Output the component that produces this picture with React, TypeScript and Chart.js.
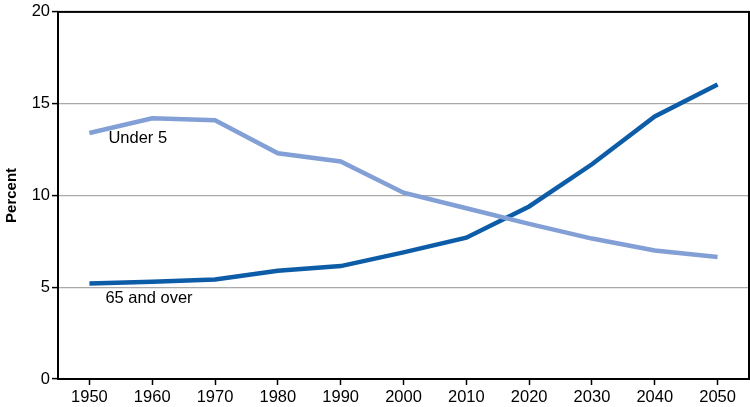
import React, { useEffect, useRef } from "react";
import { Chart, registerables } from "chart.js";

Chart.register(...registerables);

const years = ["1950", "1960", "1970", "1980", "1990", "2000", "2010", "2020", "2030", "2040", "2050"];
const under5 = [13.4, 14.2, 14.1, 12.3, 11.85, 10.15, 9.3, 8.45, 7.65, 7.0, 6.65];
const over65 = [5.2, 5.3, 5.42, 5.9, 6.15, 6.9, 7.7, 9.4, 11.7, 14.3, 16.05];
const yTicks = [0, 5, 10, 15, 20];

const FONT = "'Liberation Sans', Arial, Helvetica, sans-serif";

export default function App() {
  const ref = useRef<HTMLCanvasElement | null>(null);

  useEffect(() => {
    document.body.style.margin = "0";
    const canvas = ref.current;
    if (!canvas) return;

    const labelPlugin = {
      id: "labels",
      afterDatasetsDraw(chart: any) {
        const { ctx, scales } = chart;
        const x = scales.x;
        const y = scales.y;
        ctx.save();
        ctx.fillStyle = "#000";
        ctx.font = `16.5px ${FONT}`;
        ctx.textBaseline = "middle";
        ctx.textAlign = "left";
        ctx.fillText("Under 5", x.getPixelForValue(0) + 19, y.getPixelForValue(13.1));
        ctx.fillText("65 and over", x.getPixelForValue(0) + 16, y.getPixelForValue(4.4));
        ctx.restore();
      },
      afterDraw(chart: any) {
        const { ctx, chartArea } = chart;
        ctx.save();
        ctx.strokeStyle = "#000";
        ctx.lineWidth = 2;
        ctx.strokeRect(chartArea.left, chartArea.top, chartArea.right - chartArea.left, chartArea.bottom - chartArea.top);
        ctx.restore();
      },
    };

    const chart = new Chart(canvas, {
      type: "line",
      data: {
        labels: years,
        datasets: [
          {
            label: "Under 5",
            data: under5,
            borderColor: "#829fd6",
            borderWidth: 4.5,
            pointRadius: 0,
            tension: 0,
            fill: false,
          },
          {
            label: "65 and over",
            data: over65,
            borderColor: "#0d5ca8",
            borderWidth: 4.5,
            pointRadius: 0,
            tension: 0,
            fill: false,
          },
        ],
      },
      options: {
        animation: false,
        responsive: false,
        maintainAspectRatio: false,
        devicePixelRatio: 1,
        layout: { padding: { top: 9, right: 1, left: 0, bottom: 0 } },
        plugins: {
          legend: { display: false },
          tooltip: { enabled: false },
        },
        scales: {
          x: {
            type: "category",
            offset: true,
            grid: {
              offset: false,
              drawOnChartArea: false,
              drawTicks: true,
              tickLength: 6,
              tickColor: "#000",
              tickWidth: 1.5,
            },
            border: { display: false },
            ticks: {
              color: "#000",
              font: { family: FONT, size: 16.5 },
              padding: 3,
              maxRotation: 0,
              autoSkip: false,
            },
            afterFit(scale: any) {
              scale.height = 28;
            },
          },
          y: {
            min: 0,
            max: 20,
            afterBuildTicks(scale: any) {
              scale.ticks = yTicks.map((v) => ({ value: v }));
            },
            grid: {
              color: (c: any) => (c.tick && (c.tick.value === 0 || c.tick.value === 20) ? "rgba(0,0,0,0)" : "#aaaaaa"),
              lineWidth: 1.2,
              drawTicks: true,
              tickLength: 6,
              tickColor: "#000",
              tickWidth: 1.5,
            },
            border: { display: false },
            ticks: {
              color: "#000",
              font: { family: FONT, size: 16.5 },
              padding: 2,
            },
            title: {
              display: true,
              text: "Percent",
              color: "#000",
              font: { family: FONT, size: 15, weight: "bold" },
              padding: { top: 3, bottom: 0 },
            },
            afterFit(scale: any) {
              scale.width = 58;
            },
          },
        },
      },
      plugins: [labelPlugin],
    });

    return () => chart.destroy();
  }, []);

  return (
    <div style={{ width: 750, height: 407, background: "#fff" }}>
      <canvas ref={ref} width={750} height={407} style={{ display: "block" }} />
    </div>
  );
}
